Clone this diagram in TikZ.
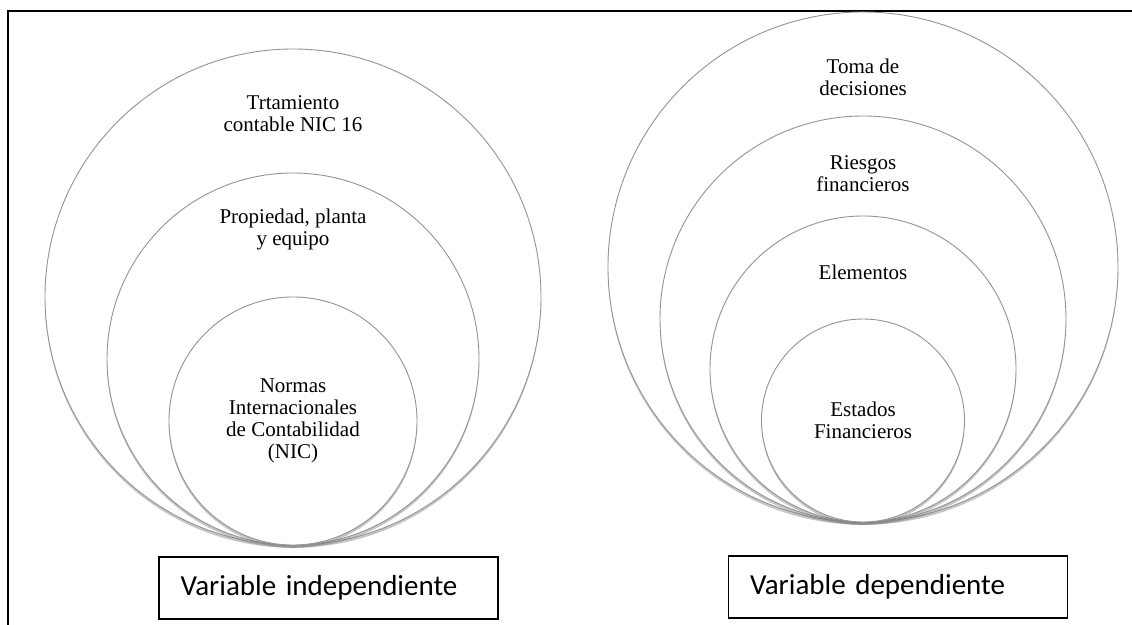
\documentclass[tikz,border=0pt]{standalone}
\usepackage{fontspec}
\setmainfont{Liberation Serif}
\newfontfamily\boxfont{Carlito}
\usetikzlibrary{positioning,shadows}

\begin{document}
\begin{tikzpicture}[
        x=0.5pt, y=-0.5pt,
        ring/.style={draw=gray!85, circle, fill=white, inner sep=0pt, line width=0.45pt,
            drop shadow={shadow xshift=0pt, shadow yshift=-1.4pt, opacity=0.45}},
        txt/.style={align=center, inner sep=0pt, font=\fontsize{10.5}{11}\selectfont},
        varbox/.style={draw, line width=0.8pt, minimum width=169.5pt, minimum height=31pt,
            inner xsep=10.5pt, text width=148pt, align=left,
            font=\boxfont\fontsize{14.5}{16}\selectfont}
    ]
    \useasboundingbox (0,0) rectangle (1132,625);

    % Frame
    \draw[line width=1pt] (8,625) -- (8,11) -- (1132,11);

    % Independent variable
    \node[ring, minimum size=248pt] (lo) at (293,297) {};
    \node[ring, minimum size=186pt, anchor=south] (lm) at (lo.south) {};
    \node[ring, minimum size=124pt, anchor=south] (li) at (lo.south) {};

    \node[txt] (lo-t) at ([yshift=-32.5pt]lo.north) {Trtamiento\\contable NIC 16};
    \node[txt] (lm-t) at ([yshift=-28.5pt]lm.north) {Propiedad, planta\\y equipo};
    \node[txt] (li-t) at (li) {Normas\\Internacionales\\de Contabilidad\\(NIC)};

    % Dependent variable
    \node[ring, minimum size=255pt] (ro) at (863,267) {};
    \node[ring, minimum size=203pt, anchor=south] (rm) at (ro.south) {};
    \node[ring, minimum size=153pt, anchor=south] (re) at (ro.south) {};
    \node[ring, minimum size=101.5pt, anchor=south] (ri) at (ro.south) {};

    \node[txt] (ro-t) at ([yshift=-33pt]ro.north) {Toma de\\decisiones};
    \node[txt] (rm-t) at ([yshift=-29pt]rm.north) {Riesgos\\financieros};
    \node[txt] (re-t) at ([yshift=-28.5pt]re.north) {Elementos};
    \node[txt] (ri-t) at (ri) {Estados\\Financieros};

    % Labels
    \node[varbox, below=5.5pt of lo.south, xshift=17.75pt] (vind) {Variable independiente};
    \node[varbox, below=16.5pt of ro.south, xshift=17.5pt] (vdep) {Variable dependiente};

\end{tikzpicture}
\end{document}
